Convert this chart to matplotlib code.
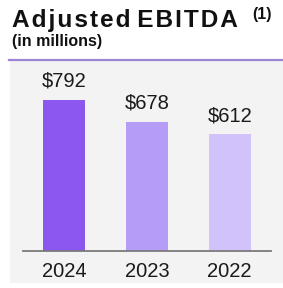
#! /usr/bin/env python3
# coding: utf-8

"""
Adjusted EBITDA bar chart
"""

import matplotlib
matplotlib.use("Agg")
import matplotlib.pyplot as plt
from matplotlib.patches import Rectangle

years = ["2024", "2023", "2022"]
ebitda = [792, 678, 612]
labels = ["$792", "$678", "$612"]
colors = ["#8b57ee", "#b59cf6", "#d1c2fb"]

W, H = 283, 288

plt.rcParams['font.family'] = ['Liberation Sans', 'DejaVu Sans']

fig = plt.figure(figsize=(W / 100, H / 100), dpi=100)
fig.patch.set_facecolor("white")

# panel gris + ligne violette
fig.add_artist(Rectangle((10 / W, 1 - 283 / H), (W - 10) / W, 222 / H,
                         transform=fig.transFigure, facecolor="#f3f3f3",
                         edgecolor="none", zorder=0))
fig.add_artist(plt.Line2D([9 / W, 1], [1 - 60 / H, 1 - 60 / H],
                          transform=fig.transFigure, color="#9c84d6", lw=1.6))

# titres (lettres un peu espacées)
titre = "\u200a".join("Adjusted") + " " + "\u200a".join("EBITDA")
fig.text(12 / W, 1 - 27 / H, titre, fontsize=17.6, fontweight="bold",
         color="#111111", ha="left", va="baseline")
fig.text(252 / W, 1 - 19 / H, "(1)", fontsize=11.5, fontweight="bold",
         color="#111111", ha="left", va="baseline")
fig.text(12 / W, 1 - 46 / H, "(in millions)", fontsize=11.5, fontweight="bold",
         color="#111111", ha="left", va="baseline")

# barres
ax = fig.add_axes([23 / W, 37 / H, 248 / W, 190 / H])
ax.patch.set_alpha(0)
x = range(len(years))
ax.bar(x, ebitda, width=0.51, color=colors, zorder=2)
for xi, v, lab in zip(x, ebitda, labels):
    ax.text(xi, v + 68, lab, ha="center", va="baseline", fontsize=14.5, color="#1a1a1a")
ax.set_xlim(-0.5, 2.5)
ax.set_ylim(0, 996)
ax.set_xticks(list(x))
ax.set_xticklabels(years, fontsize=14.5, color="#1a1a1a")
ax.tick_params(axis="x", length=0, pad=8)
ax.set_yticks([])
for s in ["top", "right", "left"]:
    ax.spines[s].set_visible(False)
ax.spines["bottom"].set_color("#7a7a7a")
ax.spines["bottom"].set_linewidth(1.3)

plt.savefig("out.png", dpi=100)
